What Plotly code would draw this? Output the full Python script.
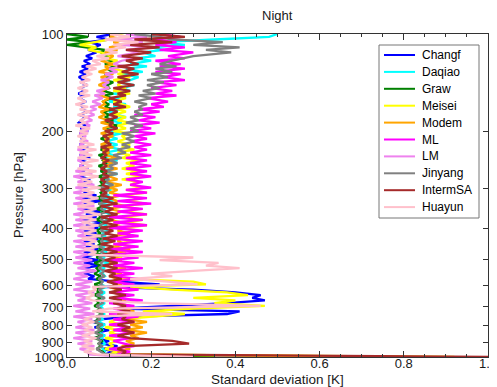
import plotly.graph_objects as go

pressure = [100, 102, 104, 106, 108, 110, 112, 114, 117, 119,
            121, 124, 126, 128, 131, 133, 136, 139, 141, 144,
            147, 150, 153, 155, 158, 162, 165, 168, 171, 174,
            178, 181, 185, 188, 192, 196, 200, 203, 207, 211,
            215, 220, 224, 228, 233, 237, 242, 246, 251, 256,
            261, 266, 271, 276, 282, 287, 293, 299, 304, 310,
            316, 322, 329, 335, 341, 348, 355, 362, 369, 376,
            383, 391, 398, 406, 414, 422, 430, 438, 447, 455,
            464, 473, 482, 492, 501, 511, 521, 531, 541, 552,
            562, 573, 584, 596, 607, 619, 631, 643, 656, 668,
            681, 695, 708, 722, 736, 750, 764, 779, 794, 810,
            825, 841, 858, 874, 891, 909, 926, 944, 962, 981,
            1000]

changf = [0.11, 0.07, 0.10, 0.05, 0.08, 0.065, 0.05, 0.07, 0.045, 0.06,
          0.04, 0.055, 0.035, 0.05, 0.03, 0.045, 0.028, 0.04, 0.032, 0.048,
          0.03, 0.042, 0.027, 0.038, 0.03, 0.045, 0.028, 0.04, 0.033, 0.05,
          0.03, 0.043, 0.035, 0.028, 0.045, 0.032, 0.05, 0.03, 0.04, 0.035,
          0.045, 0.03, 0.05, 0.035, 0.042, 0.03, 0.055, 0.035, 0.045, 0.03,
          0.05, 0.035, 0.045, 0.03, 0.055, 0.04, 0.06, 0.035, 0.05, 0.04,
          0.07, 0.035, 0.08, 0.04, 0.06, 0.035, 0.085, 0.045, 0.07, 0.035,
          0.09, 0.045, 0.075, 0.04, 0.07, 0.045, 0.085, 0.04, 0.065, 0.045,
          0.08, 0.04, 0.065, 0.035, 0.075, 0.04, 0.08, 0.035, 0.065, 0.04,
          0.065, 0.05, 0.12, 0.22, 0.08, 0.30, 0.40, 0.46, 0.44, 0.47,
          0.38, 0.25, 0.12, 0.41, 0.38, 0.15, 0.08, 0.06, 0.09, 0.065,
          0.10, 0.07, 0.09, 0.065, 0.10, 0.08, 0.12, 0.085, 0.11, 0.09,
          0.69]

daqiao = [0.50, 0.48, 0.35, 0.22, 0.28, 0.20, 0.23, 0.18, 0.21, 0.16,
          0.20, 0.15, 0.19, 0.14, 0.18, 0.13, 0.17, 0.15, 0.12, 0.16,
          0.13, 0.15, 0.11, 0.14, 0.12, 0.10, 0.14, 0.11, 0.13, 0.10,
          0.12, 0.14, 0.10, 0.13, 0.11, 0.12, 0.09, 0.13, 0.10, 0.12,
          0.09, 0.12, 0.10, 0.13, 0.09, 0.11, 0.08, 0.12, 0.10, 0.09,
          0.11, 0.08, 0.12, 0.09, 0.10, 0.08, 0.11, 0.09, 0.105, 0.08,
          0.10, 0.085, 0.11, 0.08, 0.10, 0.09, 0.08, 0.11, 0.085, 0.10,
          0.08, 0.095, 0.075, 0.10, 0.085, 0.09, 0.075, 0.10, 0.08, 0.09,
          0.075, 0.095, 0.08, 0.09, 0.075, 0.10, 0.08, 0.09, 0.075, 0.085,
          0.09, 0.075, 0.085, 0.08, 0.095, 0.075, 0.09, 0.08, 0.085, 0.075,
          0.09, 0.08, 0.085, 0.075, 0.09, 0.08, 0.085, 0.075, 0.09, 0.08,
          0.085, 0.075, 0.09, 0.08, 0.085, 0.09, 0.08, 0.085, 0.09, 0.085,
          0.25]

graw = [0.0, 0.05, 0.0, 0.055, 0.0, 0.045, 0.09, 0.08, 0.10, 0.085,
        0.11, 0.09, 0.12, 0.095, 0.11, 0.09, 0.10, 0.085, 0.11, 0.095,
        0.10, 0.085, 0.11, 0.09, 0.105, 0.085, 0.10, 0.09, 0.11, 0.085,
        0.10, 0.09, 0.11, 0.085, 0.12, 0.09, 0.10, 0.085, 0.095, 0.08,
        0.10, 0.085, 0.095, 0.08, 0.10, 0.075, 0.09, 0.085, 0.095, 0.075,
        0.09, 0.08, 0.095, 0.075, 0.09, 0.08, 0.085, 0.07, 0.09, 0.08,
        0.085, 0.07, 0.09, 0.075, 0.085, 0.07, 0.09, 0.075, 0.08, 0.07,
        0.09, 0.075, 0.085, 0.07, 0.08, 0.065, 0.085, 0.075, 0.08, 0.07,
        0.085, 0.065, 0.08, 0.07, 0.085, 0.065, 0.08, 0.07, 0.075, 0.065,
        0.08, 0.07, 0.085, 0.065, 0.08, 0.07, 0.075, 0.065, 0.08, 0.07,
        0.075, 0.065, 0.08, 0.07, 0.085, 0.07, 0.075, 0.065, 0.08, 0.07,
        0.085, 0.07, 0.08, 0.065, 0.085, 0.075, 0.08, 0.07, 0.085, 0.09,
        0.35]

meisei = [0.12, 0.14, 0.10, 0.06, 0.03, 0.07, 0.05, 0.08, 0.11, 0.09,
          0.12, 0.10, 0.13, 0.11, 0.14, 0.12, 0.15, 0.11, 0.13, 0.12,
          0.14, 0.11, 0.15, 0.12, 0.14, 0.11, 0.13, 0.15, 0.12, 0.14,
          0.11, 0.14, 0.12, 0.15, 0.12, 0.14, 0.11, 0.15, 0.13, 0.14,
          0.12, 0.15, 0.13, 0.16, 0.12, 0.15, 0.13, 0.17, 0.14, 0.16,
          0.13, 0.17, 0.14, 0.18, 0.13, 0.17, 0.15, 0.18, 0.14, 0.19,
          0.13, 0.18, 0.14, 0.19, 0.13, 0.17, 0.14, 0.19, 0.13, 0.18,
          0.14, 0.19, 0.13, 0.17, 0.12, 0.16, 0.13, 0.15, 0.12, 0.16,
          0.11, 0.14, 0.12, 0.13, 0.10, 0.12, 0.11, 0.13, 0.10, 0.12,
          0.11, 0.13, 0.30, 0.33, 0.15, 0.25, 0.38, 0.43, 0.30, 0.40,
          0.35, 0.47, 0.30, 0.18, 0.28, 0.20, 0.12, 0.10, 0.13, 0.09,
          0.12, 0.10, 0.13, 0.09, 0.12, 0.10, 0.11, 0.09, 0.12, 0.10,
          0.92]

modem = [0.12, 0.10, 0.14, 0.11, 0.13, 0.10, 0.12, 0.09, 0.11, 0.10,
         0.08, 0.11, 0.09, 0.10, 0.075, 0.11, 0.08, 0.10, 0.09, 0.075,
         0.10, 0.08, 0.09, 0.075, 0.10, 0.085, 0.09, 0.075, 0.10, 0.08,
         0.09, 0.075, 0.10, 0.08, 0.11, 0.085, 0.10, 0.08, 0.11, 0.09,
         0.10, 0.08, 0.11, 0.085, 0.10, 0.09, 0.12, 0.085, 0.11, 0.09,
         0.12, 0.09, 0.11, 0.10, 0.12, 0.09, 0.13, 0.10, 0.12, 0.10,
         0.13, 0.10, 0.12, 0.11, 0.14, 0.10, 0.13, 0.11, 0.12, 0.10,
         0.13, 0.11, 0.14, 0.12, 0.15, 0.11, 0.13, 0.12, 0.14, 0.11,
         0.15, 0.12, 0.14, 0.11, 0.13, 0.10, 0.12, 0.14, 0.11, 0.13,
         0.10, 0.12, 0.11, 0.13, 0.10, 0.12, 0.11, 0.13, 0.12, 0.14,
         0.12, 0.15, 0.13, 0.16, 0.13, 0.15, 0.14, 0.19, 0.15, 0.18,
         0.14, 0.19, 0.15, 0.17, 0.14, 0.16, 0.13, 0.15, 0.12, 0.14,
         0.80]

ml = [0.22, 0.27, 0.20, 0.26, 0.21, 0.28, 0.22, 0.30, 0.24, 0.28,
      0.21, 0.27, 0.22, 0.28, 0.21, 0.27, 0.23, 0.28, 0.21, 0.26,
      0.20, 0.25, 0.21, 0.26, 0.19, 0.24, 0.20, 0.23, 0.17, 0.22,
      0.16, 0.21, 0.17, 0.22, 0.16, 0.20, 0.15, 0.21, 0.16, 0.19,
      0.15, 0.20, 0.16, 0.19, 0.15, 0.20, 0.14, 0.19, 0.15, 0.20,
      0.14, 0.19, 0.15, 0.20, 0.14, 0.18, 0.15, 0.20, 0.14, 0.19,
      0.11, 0.19, 0.12, 0.20, 0.11, 0.18, 0.12, 0.19, 0.10, 0.18,
      0.11, 0.19, 0.10, 0.18, 0.12, 0.17, 0.10, 0.18, 0.11, 0.17,
      0.10, 0.18, 0.11, 0.17, 0.10, 0.16, 0.11, 0.18, 0.10, 0.16,
      0.11, 0.17, 0.10, 0.16, 0.11, 0.17, 0.10, 0.16, 0.11, 0.18,
      0.10, 0.16, 0.11, 0.15, 0.10, 0.17, 0.11, 0.16, 0.10, 0.15,
      0.11, 0.16, 0.10, 0.15, 0.11, 0.14, 0.16, 0.10, 0.15, 0.12,
      0.22]

lm = [0.14, 0.19, 0.12, 0.18, 0.13, 0.20, 0.14, 0.17, 0.12, 0.16,
      0.13, 0.11, 0.14, 0.10, 0.12, 0.09, 0.11, 0.08, 0.10, 0.085,
      0.10, 0.07, 0.09, 0.065, 0.085, 0.06, 0.08, 0.055, 0.07, 0.05,
      0.065, 0.045, 0.06, 0.04, 0.055, 0.035, 0.05, 0.03, 0.045, 0.035,
      0.05, 0.03, 0.045, 0.025, 0.05, 0.03, 0.045, 0.025, 0.04, 0.03,
      0.05, 0.02, 0.06, 0.015, 0.045, 0.025, 0.065, 0.02, 0.05, 0.015,
      0.06, 0.02, 0.055, 0.015, 0.065, 0.025, 0.05, 0.015, 0.06, 0.02,
      0.055, 0.015, 0.065, 0.02, 0.05, 0.025, 0.07, 0.015, 0.055, 0.02,
      0.065, 0.015, 0.05, 0.02, 0.06, 0.015, 0.055, 0.025, 0.07, 0.02,
      0.05, 0.015, 0.06, 0.02, 0.055, 0.015, 0.065, 0.02, 0.05, 0.025,
      0.06, 0.015, 0.055, 0.02, 0.065, 0.015, 0.06, 0.025, 0.05, 0.02,
      0.065, 0.02, 0.055, 0.015, 0.06, 0.025, 0.065, 0.03, 0.055, 0.05,
      0.15]

jinyang = [0.16, 0.22, 0.25, 0.37, 0.30, 0.41, 0.33, 0.39, 0.30, 0.27,
           0.25, 0.22, 0.26, 0.21, 0.25, 0.20, 0.24, 0.19, 0.23, 0.19,
           0.22, 0.18, 0.21, 0.17, 0.20, 0.16, 0.19, 0.17, 0.18, 0.16,
           0.18, 0.15, 0.17, 0.14, 0.18, 0.15, 0.17, 0.13, 0.16, 0.14,
           0.16, 0.13, 0.15, 0.12, 0.14, 0.11, 0.13, 0.10, 0.12, 0.10,
           0.11, 0.09, 0.12, 0.085, 0.10, 0.09, 0.11, 0.08, 0.10, 0.085,
           0.095, 0.08, 0.10, 0.075, 0.09, 0.08, 0.095, 0.075, 0.09, 0.08,
           0.095, 0.075, 0.09, 0.08, 0.10, 0.075, 0.09, 0.08, 0.095, 0.075,
           0.09, 0.08, 0.095, 0.075, 0.09, 0.08, 0.085, 0.075, 0.09, 0.08,
           0.09, 0.075, 0.085, 0.08, 0.09, 0.075, 0.085, 0.07, 0.09, 0.08,
           0.085, 0.07, 0.08, 0.075, 0.085, 0.07, 0.08, 0.065, 0.085, 0.07,
           0.08, 0.065, 0.085, 0.07, 0.08, 0.075, 0.085, 0.07, 0.08, 0.09,
           0.20]

intermsa = [0.20, 0.28, 0.16, 0.25, 0.15, 0.22, 0.14, 0.20, 0.13, 0.18,
            0.14, 0.17, 0.12, 0.16, 0.13, 0.17, 0.12, 0.15, 0.12, 0.16,
            0.11, 0.15, 0.12, 0.14, 0.10, 0.13, 0.11, 0.14, 0.10, 0.12,
            0.10, 0.12, 0.09, 0.11, 0.10, 0.12, 0.09, 0.11, 0.085, 0.10,
            0.09, 0.105, 0.08, 0.10, 0.085, 0.095, 0.08, 0.10, 0.085, 0.095,
            0.08, 0.095, 0.085, 0.10, 0.08, 0.09, 0.085, 0.10, 0.08, 0.095,
            0.08, 0.11, 0.085, 0.12, 0.08, 0.11, 0.09, 0.12, 0.08, 0.11,
            0.085, 0.12, 0.08, 0.11, 0.09, 0.12, 0.085, 0.115, 0.08, 0.11,
            0.09, 0.12, 0.085, 0.115, 0.09, 0.12, 0.085, 0.12, 0.09, 0.115,
            0.10, 0.13, 0.095, 0.12, 0.10, 0.13, 0.10, 0.14, 0.10, 0.13,
            0.11, 0.14, 0.12, 0.15, 0.12, 0.14, 0.13, 0.16, 0.12, 0.15,
            0.13, 0.16, 0.12, 0.15, 0.25, 0.29, 0.14, 0.12, 0.14, 0.13,
            1.05]

huayun = [0.10, 0.15, 0.09, 0.17, 0.11, 0.14, 0.09, 0.12, 0.07, 0.10,
          0.06, 0.08, 0.045, 0.07, 0.04, 0.06, 0.035, 0.055, 0.03, 0.05,
          0.025, 0.05, 0.03, 0.055, 0.025, 0.045, 0.02, 0.05, 0.03, 0.055,
          0.025, 0.05, 0.03, 0.045, 0.02, 0.055, 0.03, 0.05, 0.025, 0.045,
          0.03, 0.065, 0.025, 0.07, 0.03, 0.06, 0.025, 0.075, 0.035, 0.06,
          0.025, 0.07, 0.03, 0.075, 0.035, 0.06, 0.025, 0.08, 0.035, 0.065,
          0.03, 0.075, 0.035, 0.065, 0.025, 0.07, 0.04, 0.08, 0.03, 0.07,
          0.035, 0.075, 0.03, 0.07, 0.04, 0.08, 0.035, 0.07, 0.045, 0.075,
          0.04, 0.07, 0.05, 0.30, 0.22, 0.36, 0.33, 0.41, 0.30, 0.20,
          0.25, 0.15, 0.24, 0.31, 0.06, 0.07, 0.05, 0.065, 0.045, 0.06,
          0.20, 0.46, 0.10, 0.06, 0.25, 0.06, 0.04, 0.065, 0.035, 0.06,
          0.04, 0.065, 0.035, 0.07, 0.04, 0.06, 0.035, 0.065, 0.04, 0.07,
          0.30]

names = ["Changf", "Daqiao", "Graw", "Meisei", "Modem", "ML", "LM",
         "Jinyang", "IntermSA", "Huayun"]
series = [changf, daqiao, graw, meisei, modem, ml, lm, jinyang, intermsa, huayun]
colors = ["#0000FF", "#00FFFF", "#008000", "#FFFF00", "#FFA500", "#FF00FF",
          "#EE82EE", "#808080", "#A52A2A", "#FFC0CB"]

y_ticks = [100, 200, 300, 400, 500, 600, 700, 800, 900, 1000]
x_ticks = [0.0, 0.2, 0.4, 0.6, 0.8, 1.0]

for s in series:
    assert len(s) == len(pressure)

FONT = "Liberation Sans, Arial, Helvetica, sans-serif"
TXT = "#1a1a1a"

# Page geometry (the page body adds an 8px offset to the figure)
BODY = 8
PLOT_L, PLOT_R, PLOT_T, PLOT_B = 67, 488, 34, 357
W, H = 497, 387


def px_x(px):
    return (px - PLOT_L) / (PLOT_R - PLOT_L)


def px_y(py):
    return 1 - (py - PLOT_T) / (PLOT_B - PLOT_T)


fig = go.Figure()
for name, vals, col in zip(names, series, colors):
    fig.add_trace(go.Scatter(x=vals, y=pressure, mode="lines", name=name,
                             line=dict(color=col, width=2.3), showlegend=False))

axis_common = dict(showline=True, linecolor="#333333", linewidth=1, mirror="allticks",
                   ticks="inside", tickcolor="#333333", showgrid=False, zeroline=False,
                   automargin=False,
                   tickfont=dict(family=FONT, size=13, color=TXT))

# legend drawn as a boxed key in paper space (MATLAB-style compact spacing)
LEG_L, LEG_R, LEG_T, LEG_B = 379, 479, 45, 218
ROW0, ROW_STEP = 55, 16.9
SAMPLE_L, SAMPLE_R, TEXT_L = 384, 415, 420

shapes = [dict(type="rect", xref="paper", yref="paper",
               x0=px_x(LEG_L), x1=px_x(LEG_R), y0=px_y(LEG_B), y1=px_y(LEG_T),
               line=dict(color="#777777", width=1), fillcolor="white", layer="above")]
annotations = []
for i, (name, col) in enumerate(zip(names, colors)):
    yy = px_y(ROW0 + ROW_STEP * i)
    shapes.append(dict(type="line", xref="paper", yref="paper",
                       x0=px_x(SAMPLE_L), x1=px_x(SAMPLE_R), y0=yy, y1=yy,
                       line=dict(color=col, width=2), layer="above"))
    annotations.append(dict(text=name, xref="paper", yref="paper", x=px_x(TEXT_L), y=yy,
                            xanchor="left", yanchor="middle", showarrow=False,
                            font=dict(family=FONT, size=12, color="black")))

annotations += [
    dict(text="Night", xref="paper", yref="paper", x=0.5, y=1,
         xanchor="center", yanchor="bottom", yshift=9, showarrow=False,
         font=dict(family=FONT, size=13, color=TXT)),
    dict(text="Standard deviation [K]", xref="paper", yref="paper", x=0.5, y=0,
         xanchor="center", yanchor="top", yshift=-13, showarrow=False,
         font=dict(family=FONT, size=13.5, color=TXT)),
    dict(text="Pressure [hPa]", xref="paper", yref="paper", x=0, y=0.5,
         xanchor="right", yanchor="middle", xshift=-39, textangle=-90,
         showarrow=False, font=dict(family=FONT, size=13, color=TXT)),
]

fig.update_layout(
    width=W, height=H,
    margin=dict(l=PLOT_L - BODY, r=W - PLOT_R + BODY, t=PLOT_T - BODY, b=H - PLOT_B + BODY),
    paper_bgcolor="white", plot_bgcolor="white",
    showlegend=False,
    hovermode=False,
    xaxis=dict(range=[0, 1.0], tickvals=x_ticks,
               ticktext=[f"{v:.1f}" for v in x_ticks], ticklen=6,
               ticklabelstandoff=-6, ticklabeloverflow="allow",
               minor=dict(dtick=0.05, ticks="inside", ticklen=3, tickcolor="#333333"),
               **axis_common),
    yaxis=dict(type="log", range=[3, 2], tickvals=y_ticks,
               ticktext=[str(v) for v in y_ticks], ticklen=5,
               **axis_common),
    shapes=shapes,
    annotations=annotations,
)

fig.write_html("out.html")
